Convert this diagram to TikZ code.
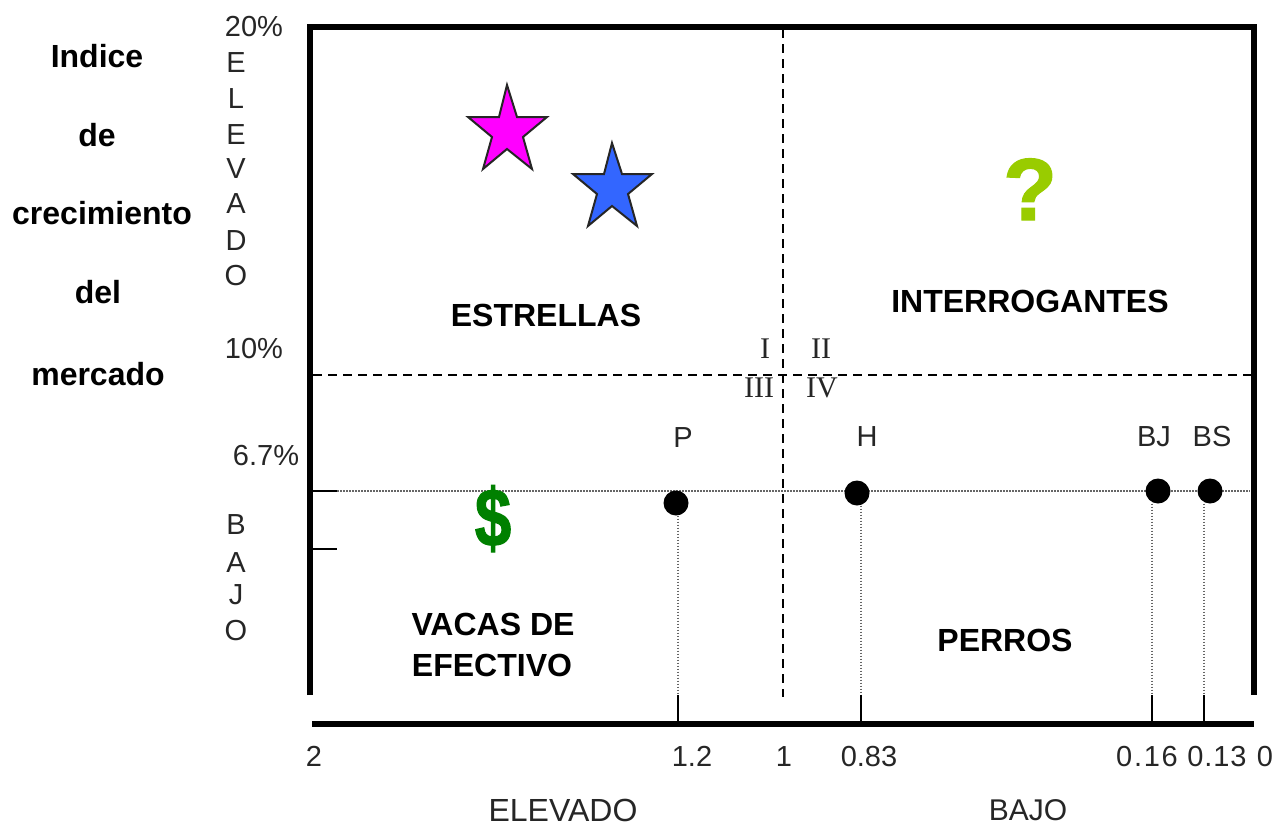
\documentclass[tikz,border=0pt]{standalone}
\usepackage{fontspec}
\setmainfont{Liberation Sans}
\newfontfamily\serifface{Liberation Serif}
\newfontfamily\heavyface[FakeBold=1.5]{Liberation Sans Bold}
\definecolor{starpink}{RGB}{255,0,255}
\definecolor{starblue}{RGB}{51,102,255}
\definecolor{qgreen}{RGB}{153,204,0}
\definecolor{dgreen}{RGB}{0,128,0}
\tikzset{
  axisline/.style={line width=5.5pt,line cap=butt},
  tickline/.style={line width=1.7pt},
  dashline/.style={line width=1.5pt,dash pattern=on 9pt off 6pt},
  dotline/.style={line width=1.3pt,black!60,dash pattern=on 1.5pt off 1.5pt},
  lab/.style={inner sep=0pt,anchor=base,text=black!85,font=\fontsize{29}{34}\selectfont},
  roman/.style={inner sep=0pt,anchor=base,text=black!85,font=\serifface\fontsize{30}{34}\selectfont},
  boldlab/.style={inner sep=0pt,anchor=base,font=\bfseries\fontsize{32}{36}\selectfont},
  datadot/.style={circle,fill=black,draw=none,minimum width=25pt,inner sep=0pt},
  starmark/.style={draw=black!85,line width=2pt,line join=miter}
}
\begin{document}
\begin{tikzpicture}[x=1pt,y=-1pt]
\useasboundingbox (0,0) rectangle (1287,827);
% frame coordinates
\coordinate (tl) at (310,27);
\coordinate (tr) at (1254,27);
\coordinate (bl) at (310,695);
\coordinate (br) at (1254,695);
\coordinate (al) at (312,724);
\coordinate (ar) at (1254,724);
\coordinate (dt) at (783,29);
\coordinate (db) at (783,697);
\coordinate (hl) at (313,375);
\coordinate (hr) at (1252,375);
\coordinate (gl) at (337,491);
\coordinate (gr) at (1250,491);
\coordinate (t1a) at (312,491);
\coordinate (t2a) at (312,549);
\coordinate (t2b) at (337,549);
% guide lines
\draw[dashline] (hl) -- (hr);
\draw[dashline] (dt) -- (db);
\draw[dotline] (gl) -- (gr);
% data points
\node[datadot] (dP) at (676,503) {};
\node[datadot] (dH) at (857,493) {};
\node[datadot] (dBJ) at (1158,491) {};
\node[datadot] (dBS) at (1210,491) {};
% ticks
\coordinate (tP) at (678,695);   \coordinate (aP) at (678,724);
\coordinate (tH) at (861,695);   \coordinate (aH) at (861,724);
\coordinate (tBJ) at (1152,695); \coordinate (aBJ) at (1152,724);
\coordinate (tBS) at (1204,695); \coordinate (aBS) at (1204,724);
\draw[dotline] (dP.south -| tP) -- (tP);
\draw[dotline] (dH.south -| tH) -- (tH);
\draw[dotline] (dBJ.south -| tBJ) -- (tBJ);
\draw[dotline] (dBS.south -| tBS) -- (tBS);
\draw[tickline] (tP) -- (aP);
\draw[tickline] (tH) -- (aH);
\draw[tickline] (tBJ) -- (aBJ);
\draw[tickline] (tBS) -- (aBS);
\draw[tickline] (t1a) -- (gl);
\draw[tickline] (t2a) -- (t2b);
% frame
\draw[axisline] (bl) -- (tl) -- (tr) -- (br);
\draw[axisline] (al) -- (ar);
% left title
\node[boldlab] (t1) at (97,67) {Indice};
\node[boldlab] (t2) at (97,146) {de};
\node[boldlab] (t3) at (102,224) {crecimiento};
\node[boldlab] (t4) at (98,303) {del};
\node[boldlab] (t5) at (98,385) {mercado};
% y labels
\node[lab] (y20) at (254,36) {20\%};
\node[lab] (y10) at (254,358) {10\%};
\node[lab] (y67) at (266,465) {6.7\%};
\node[lab] (e1) at (236,72) {E};
\node[lab] (e2) at (236,108) {L};
\node[lab] (e3) at (236,144) {E};
\node[lab] (e4) at (236,178) {V};
\node[lab] (e5) at (236,213) {A};
\node[lab] (e6) at (236,250) {D};
\node[lab] (e7) at (236,285) {O};
\node[lab] (b1) at (236,534) {B};
\node[lab] (b2) at (236,572) {A};
\node[lab] (b3) at (236,604) {J};
\node[lab] (b4) at (236,640) {O};
% quadrant numerals
\node[roman] (q1) at (765,358) {I};
\node[roman] (q2) at (821,358) {II};
\node[roman] (q3) at (759,397) {III};
\node[roman] (q4) at (822,397) {IV};
% point labels
\node[lab] (lP) at (683,447) {P};
\node[lab] (lH) at (867,446) {H};
\node[lab] (lBJ) at (1154,446) {BJ};
\node[lab] (lBS) at (1212,446) {BS};
% x labels
\node[lab] (x2) at (314,766) {2};
\node[lab] (x12) at (692,766) {1.2};
\node[lab] (x1) at (784,766) {1};
\node[lab] (x083) at (869,766) {0.83};
\node[lab] (x016) at (1147,766) {\addfontfeature{LetterSpace=6}0.16};
\node[lab] (x013) at (1217,766) {\addfontfeature{LetterSpace=3}0.13};
\node[lab] (x0) at (1265,766) {0};
\node[lab,font=\fontsize{32}{36}\selectfont] (xe) at (563,821) {ELEVADO};
\node[lab,font=\fontsize{30}{34}\selectfont] (xb) at (1028,820) {BAJO};
% quadrant titles
\node[boldlab] (qe) at (546,326) {ESTRELLAS};
\node[boldlab] (qi) at (1030,312) {INTERROGANTES};
\node[boldlab] (qv1) at (493,635) {VACAS DE};
\node[boldlab] (qv2) at (492,676) {EFECTIVO};
\node[boldlab] (qp) at (1005,651) {PERROS};
% symbols
\draw[starmark,fill=starpink] (507,85) -- (517,117) -- (547,117) -- (523,137) -- (532,169) -- (507,149) -- (483,169) -- (492,137) -- (468,117) -- (499,117) -- cycle;
\draw[starmark,fill=starblue] (612,143) -- (622,174) -- (652,174) -- (628,194) -- (637,226) -- (612,206) -- (588,226) -- (597,194) -- (573,174) -- (604,174) -- cycle;
\node[inner sep=0pt,anchor=base,text=qgreen,font=\heavyface\fontsize{88}{90}\selectfont] (qm) at (1030,220) {?};
\node[inner sep=0pt,anchor=base,text=dgreen,xscale=0.8,transform shape,font=\heavyface\fontsize{82}{84}\selectfont] (dol) at (493,546) {\$};
\end{tikzpicture}
\end{document}
